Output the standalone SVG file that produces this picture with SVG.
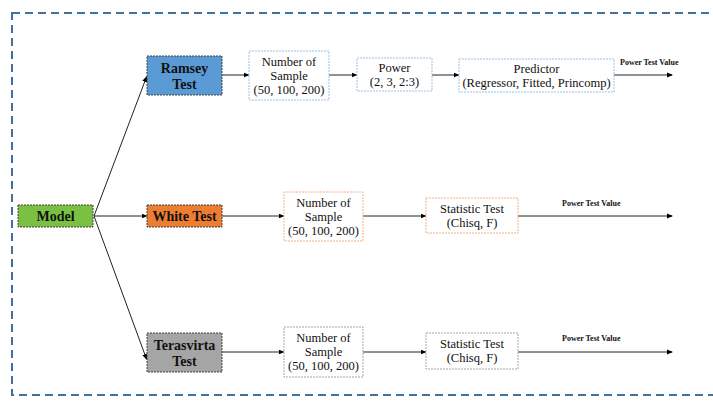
<svg xmlns="http://www.w3.org/2000/svg" width="713" height="402" viewBox="0 0 713 402">
<defs>
<marker id="ah" markerWidth="6" markerHeight="6" refX="5" refY="3" orient="auto" markerUnits="userSpaceOnUse">
<path d="M0,0.5 L6,3 L0,5.5 Z" fill="#000"/>
</marker>
<style>
.t{font-family:"Liberation Serif","Times New Roman",serif;fill:#111;text-anchor:middle}
.b{font-weight:bold;font-size:14px}
.n{font-size:12.5px}
.v{font-family:"Liberation Serif","Times New Roman",serif;font-weight:bold;font-size:8px;fill:#111}
.c{stroke:#222;stroke-width:1;fill:none;marker-end:url(#ah)}
.main{stroke:#404040;stroke-width:1;stroke-dasharray:2 1}
</style>
</defs>
<rect width="713" height="402" fill="#fff"/>
<rect x="12" y="13" width="720" height="382" fill="none" stroke="#41719C" stroke-width="2" stroke-dasharray="8 5"/>

<g id="connectors">
<line class="c" x1="94" y1="216" x2="146.5" y2="77"/>
<line class="c" x1="94" y1="216" x2="146.5" y2="216"/>
<line class="c" x1="94" y1="216" x2="146.5" y2="359"/>
<line class="c" x1="222" y1="75" x2="248.5" y2="75"/>
<line class="c" x1="329" y1="75" x2="356.5" y2="75"/>
<line class="c" x1="432" y1="75" x2="458.5" y2="75"/>
<line class="c" x1="614" y1="75" x2="672" y2="75"/>
<line class="c" x1="222" y1="216" x2="283.5" y2="216"/>
<line class="c" x1="363" y1="216" x2="425.5" y2="216"/>
<line class="c" x1="518" y1="216" x2="672" y2="216"/>
<line class="c" x1="222" y1="352" x2="283.5" y2="352"/>
<line class="c" x1="363" y1="352" x2="425.5" y2="352"/>
<line class="c" x1="518" y1="352" x2="672" y2="352"/>
</g>

<g id="model">
<rect class="main" x="18" y="205" width="75" height="22" fill="#7AC143"/>
<text class="t b" x="55.5" y="221">Model</text>
</g>

<g id="ramsey">
<rect class="main" x="147" y="56" width="75" height="39" fill="#5B9BD5"/>
<text class="t b" x="184.5" y="73">Ramsey</text>
<text class="t b" x="184.5" y="89">Test</text>
</g>
<g id="ramsey-sample">
<rect x="249" y="51" width="80" height="49" fill="#fff" stroke="#9DC3E6" stroke-width="1" stroke-dasharray="2 1"/>
<text class="t n" x="289" y="66">Number of</text>
<text class="t n" x="289" y="80">Sample</text>
<text class="t n" x="289" y="94">(50, 100, 200)</text>
</g>
<g id="ramsey-power">
<rect x="357" y="58" width="75" height="33" fill="#fff" stroke="#9DC3E6" stroke-width="1" stroke-dasharray="2 1"/>
<text class="t n" x="394.5" y="72">Power</text>
<text class="t n" x="394.5" y="86">(2, 3, 2:3)</text>
</g>
<g id="ramsey-predictor">
<rect x="459" y="59" width="155" height="33" fill="#fff" stroke="#9DC3E6" stroke-width="1" stroke-dasharray="2 1"/>
<text class="t n" x="536.5" y="73">Predictor</text>
<text class="t n" x="536.5" y="87">(Regressor, Fitted, Princomp)</text>
</g>
<g id="ramsey-value">
<text class="v" x="620" y="65">Power Test Value</text>
</g>

<g id="white">
<rect class="main" x="147" y="205" width="75" height="22" fill="#ED7D31"/>
<text class="t b" x="184.5" y="221">White Test</text>
</g>
<g id="white-sample">
<rect x="284" y="192" width="79" height="49" fill="#fff" stroke="#F4B183" stroke-width="1" stroke-dasharray="2 1"/>
<text class="t n" x="323.5" y="207">Number of</text>
<text class="t n" x="323.5" y="221">Sample</text>
<text class="t n" x="323.5" y="235">(50, 100, 200)</text>
</g>
<g id="white-stat">
<rect x="426" y="198" width="92" height="35" fill="#fff" stroke="#F4B183" stroke-width="1" stroke-dasharray="2 1"/>
<text class="t n" x="472" y="213">Statistic Test</text>
<text class="t n" x="472" y="227">(Chisq, F)</text>
</g>
<g id="white-value">
<text class="v" x="562" y="206">Power Test Value</text>
</g>

<g id="terasvirta">
<rect class="main" x="147" y="333" width="75" height="39" fill="#A5A5A5"/>
<text class="t b" x="184.5" y="350">Terasvirta</text>
<text class="t b" x="184.5" y="366">Test</text>
</g>
<g id="terasvirta-sample">
<rect x="284" y="327" width="79" height="50" fill="#fff" stroke="#A5A5A5" stroke-width="1" stroke-dasharray="2 1"/>
<text class="t n" x="323.5" y="342">Number of</text>
<text class="t n" x="323.5" y="356">Sample</text>
<text class="t n" x="323.5" y="370">(50, 100, 200)</text>
</g>
<g id="terasvirta-stat">
<rect x="426" y="333" width="92" height="36" fill="#fff" stroke="#A5A5A5" stroke-width="1" stroke-dasharray="2 1"/>
<text class="t n" x="472" y="348">Statistic Test</text>
<text class="t n" x="472" y="362">(Chisq, F)</text>
</g>
<g id="terasvirta-value">
<text class="v" x="562" y="341">Power Test Value</text>
</g>
</svg>
